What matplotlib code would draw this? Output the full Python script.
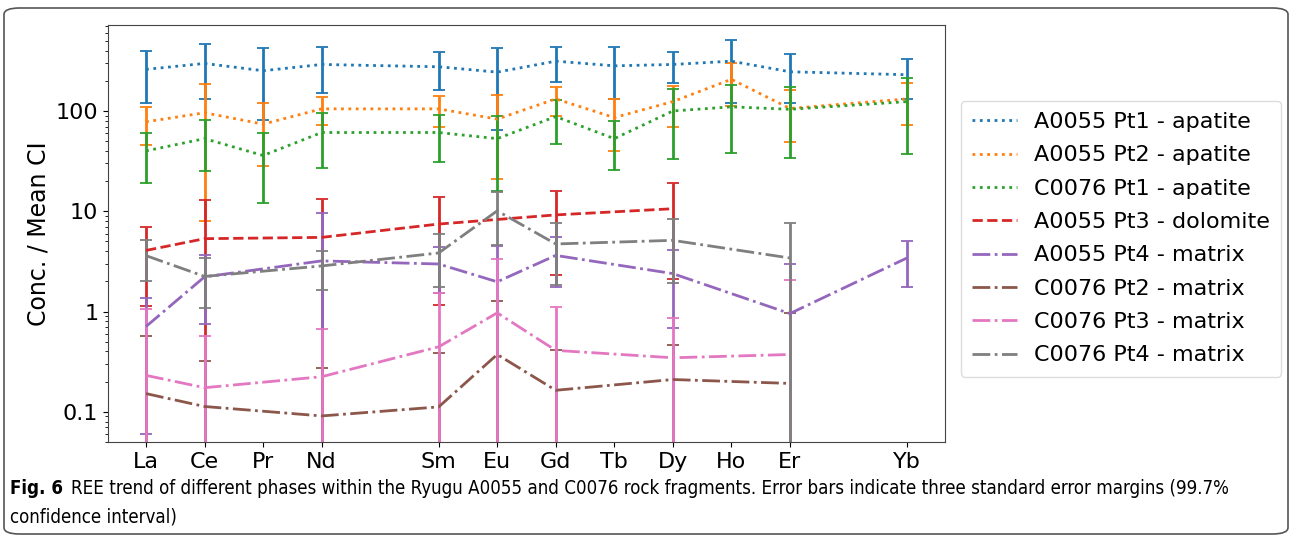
import matplotlib
matplotlib.use("Agg")
import matplotlib.pyplot as plt
from matplotlib.patches import FancyBboxPatch
from matplotlib.ticker import FuncFormatter

# ── data (chondrite-normalised REE) ──────────────
elements = ["La", "Ce", "Pr", "Nd", "Sm", "Eu", "Gd", "Tb", "Dy", "Ho", "Er", "Yb"]
atomic_no = {"La": 57, "Ce": 58, "Pr": 59, "Nd": 60, "Sm": 62, "Eu": 63,
             "Gd": 64, "Tb": 65, "Dy": 66, "Ho": 67, "Er": 68, "Yb": 70}

apatite_ree = elements
a55_pt1 = [260, 298, 252, 291, 276, 244, 314, 282, 291, 314, 246, 230]
a55_pt1_err = [140, 165, 170, 140, 115, 180, 118, 150, 100, 195, 125, 97]
a55_pt2 = [78, 96, 74, 105, 105, 83, 132, 86, 124, 207, 106, 132]
a55_pt2_err = [32, 88, 46, 32, 35, 62, 43, 46, 54, 95, 57, 59]
c76_pt1 = [40, 53, 36, 61, 61, 53, 88, 53, 100, 110, 104, 124]
c76_pt1_err = [21, 28, 24, 34, 30, 37, 41, 27, 67, 72, 70, 87]

dolomite_ree = ["La", "Ce", "Nd", "Sm", "Gd", "Dy"]
a55_pt3 = [4.07, 5.33, 5.49, 7.46, 9.2, 10.6]
a55_pt3_err = [2.93, 7.7, 7.7, 6.3, 6.9, 8.5]

a55_matrix_ree = ["La", "Ce", "Nd", "Sm", "Eu", "Gd", "Dy", "Er", "Yb"]
a55_pt4 = [0.71, 2.22, 3.2, 2.98, 1.98, 3.63, 2.39, 0.955, 3.42]
a55_pt4_err = [0.65, 1.47, 6.5, 1.45, 2.5, 1.86, 1.7, 2.0, 1.67]

c76_matrix_ree = ["La", "Ce", "Nd", "Sm", "Eu", "Gd", "Dy", "Er"]
c76_pt2 = [0.152, 0.113, 0.091, 0.112, 0.373, 0.164, 0.21, 0.192]
c76_pt2_err = [0.42, 0.21, 0.18, 0.27, 0.9, 0.25, 0.25, 0.78]
c76_pt3 = [0.231, 0.174, 0.224, 0.445, 0.97, 0.41, 0.346, 0.373]
c76_pt3_err = [0.82, 0.39, 0.45, 1.09, 2.4, 0.7, 0.52, 1.7]
c76_pt4 = [3.61, 2.24, 2.85, 3.84, 10.1, 4.72, 5.13, 3.42]
c76_pt4_err = [1.58, 1.15, 1.2, 2.1, 5.5, 2.9, 3.2, 4.3]

series = [
    ("A0055 Pt1 - apatite", apatite_ree, a55_pt1, a55_pt1_err, ":", "tab:blue"),
    ("A0055 Pt2 - apatite", apatite_ree, a55_pt2, a55_pt2_err, ":", "tab:orange"),
    ("C0076 Pt1 - apatite", apatite_ree, c76_pt1, c76_pt1_err, ":", "tab:green"),
    ("A0055 Pt3 - dolomite", dolomite_ree, a55_pt3, a55_pt3_err, "--", "tab:red"),
    ("A0055 Pt4 - matrix", a55_matrix_ree, a55_pt4, a55_pt4_err, "-.", "tab:purple"),
    ("C0076 Pt2 - matrix", c76_matrix_ree, c76_pt2, c76_pt2_err, "-.", "tab:brown"),
    ("C0076 Pt3 - matrix", c76_matrix_ree, c76_pt3, c76_pt3_err, "-.", "tab:pink"),
    ("C0076 Pt4 - matrix", c76_matrix_ree, c76_pt4, c76_pt4_err, "-.", "tab:gray"),
]

# ── figure ───────────────────────────────────────
fig = plt.figure(figsize=(12.95, 5.38), dpi=100)
ax = fig.add_axes([0.0834, 0.1784, 0.6463, 0.7751])
ax.set_yscale("log")

handles, labels = [], []
for label, ree, vals, errs, ls, col in series:
    xs = [atomic_no[e] for e in ree]
    cont = ax.errorbar(xs, vals, yerr=errs, linestyle=ls, color=col, lw=2,
                       elinewidth=2, capsize=4, capthick=1.3)
    handles.append(cont[0])
    labels.append(label)

ax.set_ylim(0.05, 720)
ax.set_xticks([atomic_no[e] for e in elements])
ax.set_xticklabels(elements)
ax.yaxis.set_major_formatter(FuncFormatter(lambda v, p: f"{v:g}"))
ax.tick_params(labelsize=16)
ax.set_ylabel("Conc. / Mean CI", fontsize=17)
for s in ax.spines.values():
    s.set_color("#444444")

ax.legend(handles, labels, fontsize=16, loc="upper left",
          bbox_to_anchor=(961 / 1295, 1 - 101 / 538),
          bbox_transform=fig.transFigure, borderaxespad=0,
          handlelength=2.0, borderpad=0.5, labelspacing=0.6,
          framealpha=1, edgecolor="#dddddd")

# ── caption (scaled to fit the reference line width) ──
cap_font = dict(family="DejaVu Sans", stretch="condensed", va="center")
line1 = ("REE trend of different phases within the Ryugu A0055 and C0076 rock "
         "fragments. Error bars indicate three standard error margins (99.7%")
renderer = fig.canvas.get_renderer()
size = 14
t_fig = fig.text(10 / 1295, 1 - 488 / 538, "Fig. 6", fontsize=size,
                 fontweight="bold", **cap_font)
t_body = fig.text(0, 1 - 488 / 538, line1, fontsize=size, **cap_font)
w_fig = t_fig.get_window_extent(renderer).width
w_body = t_body.get_window_extent(renderer).width
gap = 8
scale = (1244 - 10 - gap) / (w_fig + w_body)
size = size * scale
t_fig.set_fontsize(size)
t_body.set_fontsize(size)
w_fig = t_fig.get_window_extent(renderer).width
t_body.set_x((10 + w_fig + gap) / 1295)
fig.text(10 / 1295, 1 - 517 / 538, "confidence interval)", fontsize=size,
         **cap_font)

frame = FancyBboxPatch((4 / 1295, 4 / 538), 1284 / 1295, 526 / 538,
                       boxstyle="round,pad=0,rounding_size=0.012",
                       transform=fig.transFigure, fill=False,
                       edgecolor="#555555", lw=1.2)
fig.patches.append(frame)

fig.savefig("out.png", dpi=100)
